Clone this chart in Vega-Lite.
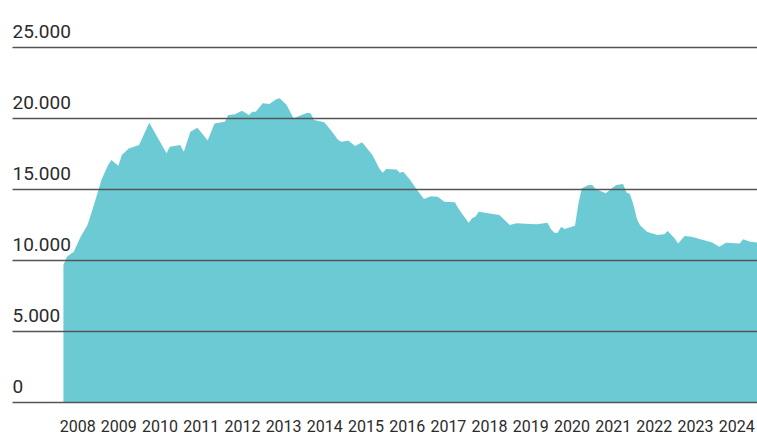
{
  "$schema": "https://vega.github.io/schema/vega-lite/v6.json",
  "width": 745,
  "height": 355,
  "autosize": "none",
  "padding": {"left": 12, "top": 47, "right": 0, "bottom": 33},
  "background": "white",
  "config": {"view": {"stroke": null}},
  "data": {
    "values": [
      {"date": "2008-03-01", "value": 9650},
      {"date": "2008-04-01", "value": 10230},
      {"date": "2008-06-01", "value": 10580},
      {"date": "2008-08-01", "value": 11640},
      {"date": "2008-10-01", "value": 12460},
      {"date": "2008-12-01", "value": 13990},
      {"date": "2009-02-01", "value": 15630},
      {"date": "2009-04-01", "value": 16690},
      {"date": "2009-05-01", "value": 17040},
      {"date": "2009-07-01", "value": 16640},
      {"date": "2009-08-01", "value": 17390},
      {"date": "2009-10-01", "value": 17860},
      {"date": "2010-01-01", "value": 18100},
      {"date": "2010-04-01", "value": 19670},
      {"date": "2010-09-01", "value": 17510},
      {"date": "2010-10-01", "value": 17980},
      {"date": "2011-01-01", "value": 18100},
      {"date": "2011-02-01", "value": 17630},
      {"date": "2011-04-01", "value": 19040},
      {"date": "2011-06-01", "value": 19320},
      {"date": "2011-07-01", "value": 19040},
      {"date": "2011-09-01", "value": 18410},
      {"date": "2011-11-01", "value": 19620},
      {"date": "2012-02-01", "value": 19740},
      {"date": "2012-03-01", "value": 20210},
      {"date": "2012-05-01", "value": 20260},
      {"date": "2012-07-01", "value": 20510},
      {"date": "2012-09-01", "value": 20210},
      {"date": "2012-10-01", "value": 20440},
      {"date": "2012-11-01", "value": 20440},
      {"date": "2013-01-01", "value": 21030},
      {"date": "2013-03-01", "value": 20980},
      {"date": "2013-05-01", "value": 21320},
      {"date": "2013-06-01", "value": 21390},
      {"date": "2013-08-01", "value": 20910},
      {"date": "2013-10-01", "value": 19980},
      {"date": "2014-02-01", "value": 20370},
      {"date": "2014-03-01", "value": 20330},
      {"date": "2014-04-01", "value": 19860},
      {"date": "2014-07-01", "value": 19700},
      {"date": "2014-09-01", "value": 19100},
      {"date": "2014-11-01", "value": 18450},
      {"date": "2014-12-01", "value": 18330},
      {"date": "2015-02-01", "value": 18400},
      {"date": "2015-04-01", "value": 18030},
      {"date": "2015-06-01", "value": 18290},
      {"date": "2015-09-01", "value": 17390},
      {"date": "2015-11-01", "value": 16450},
      {"date": "2015-12-01", "value": 16150},
      {"date": "2016-01-01", "value": 16410},
      {"date": "2016-04-01", "value": 16380},
      {"date": "2016-05-01", "value": 16150},
      {"date": "2016-06-01", "value": 16220},
      {"date": "2016-08-01", "value": 15630},
      {"date": "2016-10-01", "value": 14930},
      {"date": "2016-12-01", "value": 14300},
      {"date": "2017-02-01", "value": 14490},
      {"date": "2017-04-01", "value": 14460},
      {"date": "2017-06-01", "value": 14100},
      {"date": "2017-09-01", "value": 14060},
      {"date": "2017-10-01", "value": 13640},
      {"date": "2017-11-01", "value": 13290},
      {"date": "2018-01-01", "value": 12630},
      {"date": "2018-02-01", "value": 12940},
      {"date": "2018-03-01", "value": 13050},
      {"date": "2018-04-01", "value": 13400},
      {"date": "2018-10-01", "value": 13170},
      {"date": "2019-01-01", "value": 12460},
      {"date": "2019-03-01", "value": 12580},
      {"date": "2019-07-01", "value": 12530},
      {"date": "2019-09-01", "value": 12510},
      {"date": "2019-12-01", "value": 12630},
      {"date": "2020-01-01", "value": 12160},
      {"date": "2020-02-01", "value": 11920},
      {"date": "2020-03-01", "value": 11920},
      {"date": "2020-04-01", "value": 12350},
      {"date": "2020-05-01", "value": 12180},
      {"date": "2020-08-01", "value": 12420},
      {"date": "2020-09-01", "value": 14000},
      {"date": "2020-10-01", "value": 15050},
      {"date": "2020-12-01", "value": 15280},
      {"date": "2021-01-01", "value": 15280},
      {"date": "2021-02-01", "value": 15000},
      {"date": "2021-05-01", "value": 14700},
      {"date": "2021-08-01", "value": 15280},
      {"date": "2021-10-01", "value": 15350},
      {"date": "2021-11-01", "value": 14750},
      {"date": "2021-12-01", "value": 14650},
      {"date": "2022-01-01", "value": 13900},
      {"date": "2022-02-01", "value": 12900},
      {"date": "2022-03-01", "value": 12450},
      {"date": "2022-05-01", "value": 11990},
      {"date": "2022-08-01", "value": 11760},
      {"date": "2022-10-01", "value": 11810},
      {"date": "2022-11-01", "value": 12040},
      {"date": "2023-01-01", "value": 11530},
      {"date": "2023-02-01", "value": 11170},
      {"date": "2023-04-01", "value": 11690},
      {"date": "2023-06-01", "value": 11640},
      {"date": "2023-12-01", "value": 11240},
      {"date": "2024-02-01", "value": 10940},
      {"date": "2024-04-01", "value": 11220},
      {"date": "2024-08-01", "value": 11170},
      {"date": "2024-09-01", "value": 11460},
      {"date": "2024-11-01", "value": 11290},
      {"date": "2025-01-01", "value": 11240}
    ]
  },
  "mark": {"type": "area", "color": "#6ccad4", "interpolate": "linear", "clip": true},
  "encoding": {
    "x": {
      "field": "date",
      "type": "temporal",
      "scale": {
        "type": "utc",
        "domain": [
          {"year": 2006, "month": 12, "date": 1, "utc": true},
          {"year": 2025, "month": 1, "date": 1, "utc": true}
        ]
      },
      "axis": {
        "title": null,
        "grid": false,
        "domain": false,
        "ticks": false,
        "tickSize": 0,
        "labelPadding": 32,
        "labelBaseline": "bottom",
        "labelAlign": "center",
        "labelOverlap": false,
        "labelFlush": false,
        "labelFont": "Roboto",
        "labelFontSize": 16,
        "labelColor": "#2b2b2b",
        "format": "%Y",
        "values": [
          {"year": 2008, "month": 7, "date": 1, "utc": true},
          {"year": 2009, "month": 7, "date": 1, "utc": true},
          {"year": 2010, "month": 7, "date": 1, "utc": true},
          {"year": 2011, "month": 7, "date": 1, "utc": true},
          {"year": 2012, "month": 7, "date": 1, "utc": true},
          {"year": 2013, "month": 7, "date": 1, "utc": true},
          {"year": 2014, "month": 7, "date": 1, "utc": true},
          {"year": 2015, "month": 7, "date": 1, "utc": true},
          {"year": 2016, "month": 7, "date": 1, "utc": true},
          {"year": 2017, "month": 7, "date": 1, "utc": true},
          {"year": 2018, "month": 7, "date": 1, "utc": true},
          {"year": 2019, "month": 7, "date": 1, "utc": true},
          {"year": 2020, "month": 7, "date": 1, "utc": true},
          {"year": 2021, "month": 7, "date": 1, "utc": true},
          {"year": 2022, "month": 7, "date": 1, "utc": true},
          {"year": 2023, "month": 7, "date": 1, "utc": true},
          {"year": 2024, "month": 7, "date": 1, "utc": true}
        ]
      }
    },
    "y": {
      "field": "value",
      "type": "quantitative",
      "scale": {"domain": [0, 25000], "nice": false, "zero": true},
      "axis": {
        "title": null,
        "values": [0, 5000, 10000, 15000, 20000, 25000],
        "labelExpr": "replace(format(datum.value, ','), ',', '.')",
        "domain": false,
        "ticks": false,
        "tickSize": 0,
        "labelPadding": 0,
        "labelAlign": "left",
        "labelBaseline": "alphabetic",
        "labelOffset": -10,
        "labelFont": "Roboto",
        "labelFontSize": 19,
        "labelColor": "#2b2b2b",
        "grid": true,
        "gridColor": "#555555",
        "gridWidth": 1.5,
        "zindex": 1
      }
    }
  }
}
